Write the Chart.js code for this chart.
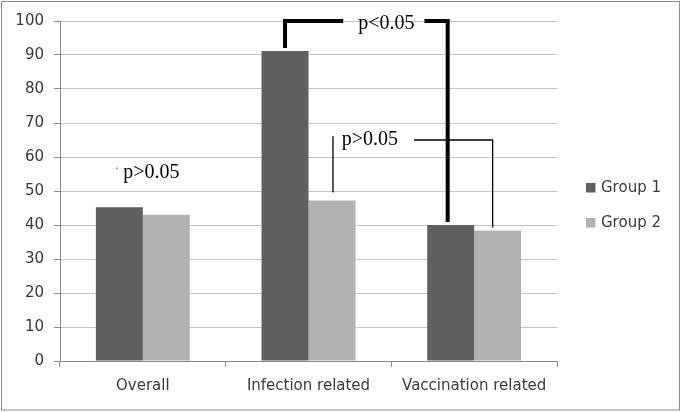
<!DOCTYPE html>
<html>
<head>
<meta charset="utf-8">
<script src="https://cdn.jsdelivr.net/npm/chart.js@4.4.1/dist/chart.umd.min.js"></script>
<style>
  html, body { margin: 0; padding: 0; background: #fff; }
  #wrap { position: relative; width: 685px; height: 412px; }
</style>
</head>
<body>
<div id="wrap"><canvas id="chart" width="685" height="412"></canvas></div>
<script>
const categories = ["Overall", "Infection related", "Vaccination related"];
const group1 = [45.2, 91.2, 40.0];
const group2 = [43.0, 47.2, 38.4];
const seriesNames = ["Group 1", "Group 2"];
const yTicks = [0, 10, 20, 30, 40, 50, 60, 70, 80, 90, 100];

const colors = ["#5f5f5f", "#b2b2b2"];
const tickFont = { family: "DejaVu Sans", size: 15 };
const serif = "20px 'Liberation Serif'";

// border, legend and the p-value brackets
const extras = {
  id: "extras",
  beforeDraw(chart) {
    const ctx = chart.ctx;
    ctx.save();
    ctx.fillStyle = "#fff";
    ctx.fillRect(0, 0, chart.width, chart.height);
    ctx.strokeStyle = "#8a8a8a";
    ctx.lineWidth = 1;
    ctx.strokeRect(1.5, 1.5, 678, 408.5);
    ctx.restore();
  },
  afterDatasetsDraw(chart) {
    const ctx = chart.ctx;
    const y = chart.scales.y;
    const x = chart.scales.x;
    const g1 = chart.getDatasetMeta(0).data;
    const g2 = chart.getDatasetMeta(1).data;

    ctx.save();
    ctx.fillStyle = "#000";
    ctx.strokeStyle = "#000";
    ctx.font = serif;
    ctx.textBaseline = "middle";
    ctx.textAlign = "center";

    // overall: p>0.05
    ctx.fillText("p>0.05", g1[0].x + 32, y.getPixelForValue(55.8) + 1);
    ctx.fillStyle = "#777";
    ctx.fillRect(g1[0].x - 3, y.getPixelForValue(56.6) - 1, 1.5, 1.5);
    ctx.fillStyle = "#000";

    // thick bracket: infection G1 vs vaccination G1
    const topY = y.getPixelForValue(100);
    const tx = x.getPixelForValue(1.5) - 5;
    const tw = ctx.measureText("p<0.05").width;
    ctx.fillText("p<0.05", tx, topY + 3);
    ctx.lineWidth = 4;
    ctx.lineCap = "butt";
    ctx.beginPath();
    ctx.moveTo(g1[1].x, g1[1].y - 3);
    ctx.lineTo(g1[1].x, topY);
    ctx.lineTo(tx - tw / 2 - 15, topY);
    ctx.moveTo(tx + tw / 2 + 10, topY);
    ctx.lineTo(g1[2].x - 3, topY);
    ctx.lineTo(g1[2].x - 3, g1[2].y - 3);
    ctx.stroke();

    // thin bracket: infection G2 vs vaccination G2
    const midY = y.getPixelForValue(65);
    const lx = g2[1].x + 1;
    const rx = g2[2].x - 5;
    const t2x = lx + 37;
    const t2w = ctx.measureText("p>0.05").width;
    ctx.fillText("p>0.05", t2x, midY);
    ctx.lineWidth = 1.3;
    ctx.beginPath();
    ctx.moveTo(lx, y.getPixelForValue(66.1));
    ctx.lineTo(lx, g2[1].y - 8);
    ctx.moveTo(t2x + t2w / 2 + 16, midY);
    ctx.lineTo(rx, midY);
    ctx.lineTo(rx, g2[2].y - 3);
    ctx.stroke();

    // legend
    ctx.font = "15px 'DejaVu Sans'";
    ctx.textAlign = "left";
    const legendY = [188, 223];
    seriesNames.forEach((name, i) => {
      ctx.fillStyle = colors[i];
      ctx.fillRect(586, legendY[i] - 5, 9.5, 9.5);
      ctx.fillStyle = "#3a3a3a";
      ctx.fillText(name, 601, legendY[i]);
    });
    ctx.restore();
  }
};

new Chart(document.getElementById("chart"), {
  type: "bar",
  data: {
    labels: categories,
    datasets: [
      { label: seriesNames[0], data: group1, backgroundColor: colors[0] },
      { label: seriesNames[1], data: group2, backgroundColor: colors[1] }
    ]
  },
  options: {
    responsive: false,
    animation: false,
    events: [],
    layout: { padding: { left: 0, right: 128, top: 21, bottom: 0 } },
    datasets: { bar: { categoryPercentage: 0.567, barPercentage: 1 } },
    plugins: { legend: { display: false }, tooltip: { enabled: false } },
    scales: {
      x: {
        afterFit(scale) { scale.height = 51; },
        grid: { display: true, drawOnChartArea: false, tickLength: 6, color: "#8a8a8a", offset: true },
        border: { color: "#8a8a8a" },
        ticks: { font: tickFont, color: "#3a3a3a", padding: 10 }
      },
      y: {
        min: 0,
        max: 100,
        afterFit(scale) { scale.width = 60; },
        afterBuildTicks(scale) { scale.ticks = yTicks.map(v => ({ value: v })); },
        grid: { color: "#c4c4c4", tickColor: "#8a8a8a", tickLength: 6 },
        border: { color: "#8a8a8a" },
        ticks: { font: tickFont, color: "#3a3a3a", padding: 10 }
      }
    }
  },
  plugins: [extras]
});
</script>
</body>
</html>
